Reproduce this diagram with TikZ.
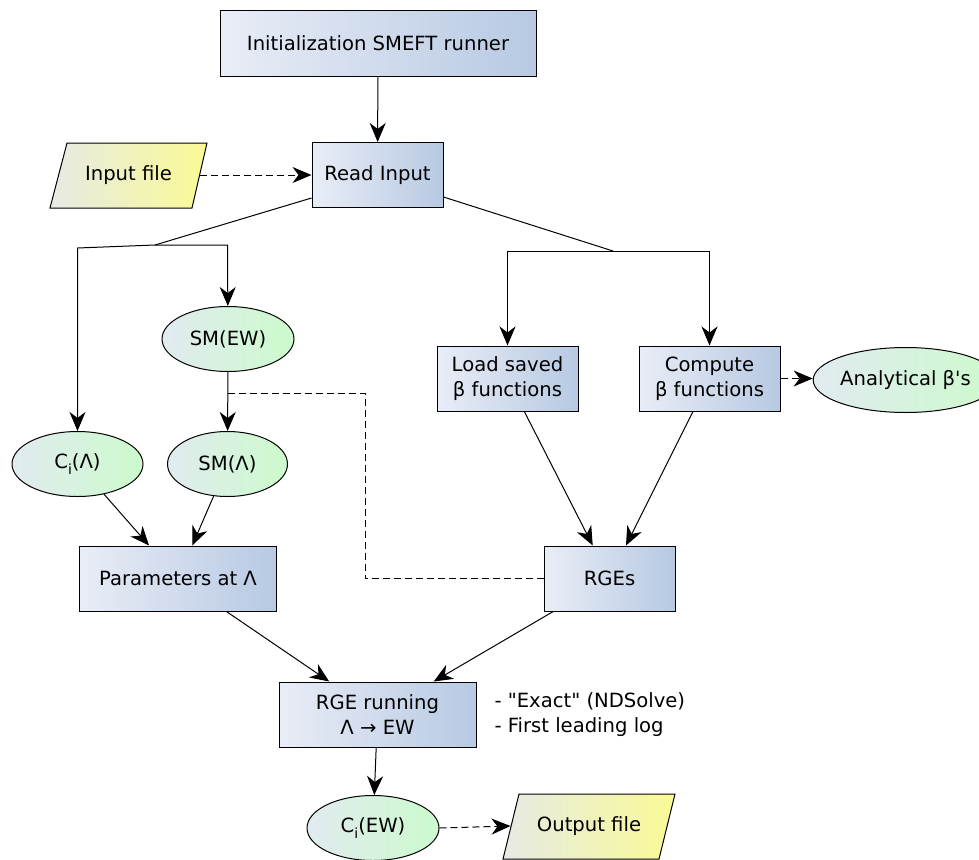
\documentclass[tikz,border=0pt]{standalone}
\usepackage{fontspec}
\setmainfont{DejaVu Sans}[Ligatures=TeXOff]
\usetikzlibrary{arrows.meta,shapes.geometric}
\definecolor{boxL}{RGB}{233,237,246}
\definecolor{boxR}{RGB}{183,201,227}
\definecolor{ellL}{RGB}{225,235,240}
\definecolor{ellR}{RGB}{204,250,204}
\definecolor{parL}{RGB}{230,234,228}
\definecolor{parR}{RGB}{250,250,150}
\newcommand{\subi}{\raisebox{-5.5pt}{\fontsize{14}{14}\selectfont i}}
\begin{document}
\begin{tikzpicture}[x=1pt,y=-1pt,
  font=\fontsize{19.6}{25}\selectfont,
  line width=1pt,
  box/.style={draw, rectangle, left color=boxL, right color=boxR, minimum width=#1, minimum height=65, inner sep=0pt, align=center},
  ell/.style={draw, ellipse, left color=ellL, right color=ellR, minimum width=#1, minimum height=65, inner sep=0pt, align=center},
  par/.style={draw, left color=parL, right color=parR},
  ptext/.style={rectangle, minimum width=#1, minimum height=65, inner sep=0pt},
  arr/.style={-{Stealth[length=19pt,width=16pt,inset=6pt]}},
  dsh/.style={dash pattern=on 7pt off 4pt}]
\useasboundingbox (0,0) rectangle (979,859);

% boxes
\node[box=316] (init) at (378,43.5) {Initialization SMEFT runner};
\node[box=131] (read) at (377.5,175) {Read Input};
\node[box=141] (load) at (507.5,378.5) {Load saved\\β functions};
\node[box=141] (comp) at (709.5,378.5) {Compute\\β functions};
\node[box=197] (params) at (178,578.5) {Parameters at Λ};
\node[box=131] (rges) at (609.5,578.5) {RGEs};
\node[box=197] (run) at (377.5,714.5) {RGE running\\Λ → EW};

% ellipses
\node[ell=132] (smew) at (228,339) {SM(EW)};
\node[ell=131] (cil) at (77.5,464) {C\subi(Λ)};
\node[ell=120] (sml) at (227.5,464) {SM(Λ)};
\node[ell=151] (ana) at (905.5,380) {Analytical β's};
\node[ell=132] (ciew) at (373,828) {C\subi(EW)};

% parallelograms
\path[par] (67,143) -- (207,143) -- (192,208) -- (50,208) -- cycle;
\node[ptext=142] (inp) at (128.5,175) {Input file};
\path[par] (519,794) -- (675,794) -- (659,859) -- (503,859) -- cycle;
\node[ptext=156] (out) at (589,826) {Output file};

% side note
\node[anchor=west, align=left, inner sep=0pt] (note) at (494,715) {- "Exact" (NDSolve)\\- First leading log};

% branch coordinates
\coordinate (bl) at (155,245);
\coordinate (blL) at (77.5,248);
\coordinate (blR) at (227.5,245);
\coordinate (br) at (613,251);
\coordinate (brL) at (507.5,251);
\coordinate (brR) at (709.5,251);
\coordinate (d1) at (227.5,393);
\coordinate (dc) at (365,578.5);

% connectors
\draw[arr] (init) -- (read);
\draw[arr,dsh] (inp.east) -- (read.west);
\draw ([yshift=10pt]read.south west) -- (bl);
\draw[arr] (bl) -- (blL) -- (cil);
\draw[arr] (bl) -- (blR) -- (smew);
\draw ([yshift=11pt]read.south east) -- (br);
\draw[arr] (br) -- (brL) -- (load);
\draw[arr] (br) -- (brR) -- (comp);
\draw[arr] (smew) -- (sml);
\draw[arr,dsh] (comp.east) -- (comp.east -| ana.west);
\draw[dsh] (d1) -| (dc) -- (rges.west);
\draw[arr] (cil) -- (params);
\draw[arr] (sml) -- (params);
\draw[arr] (load) -- (rges);
\draw[arr] (comp) -- (rges);
\draw[arr] (params) -- (run);
\draw[arr] (rges) -- (run);
\draw[arr] (run) -- (ciew);
\draw[arr,dsh] (ciew.east) -- (out.west);
\end{tikzpicture}
\end{document}
